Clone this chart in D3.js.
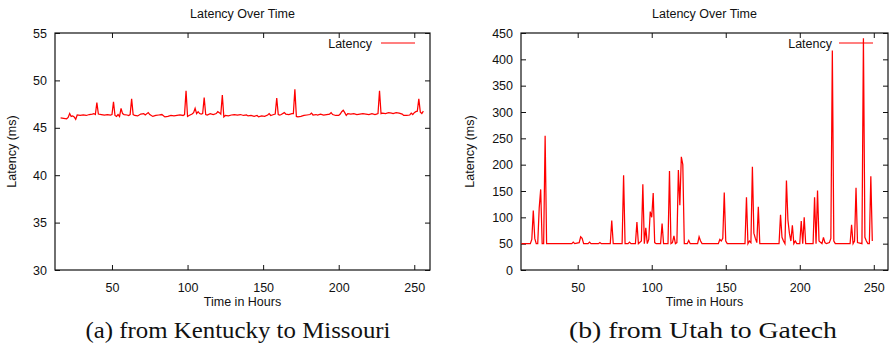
<!DOCTYPE html>
<html>
<head>
<meta charset="utf-8">
<script src="https://cdn.jsdelivr.net/npm/d3@7"></script>
<style>
  html, body { margin: 0; padding: 0; background: #fff; }
  svg { display: block; }
  text { font-family: "Liberation Sans", Arial, Helvetica, sans-serif; fill: #111; }
  .caption { font-family: "Liberation Serif", "Times New Roman", serif; }
</style>
</head>
<body>
<svg id="chart" width="890" height="347"></svg>
<script>
// ---- Data ----
const chartTitle = "Latency Over Time";
const xLabel = "Time in Hours";
const yLabel = "Latency (ms)";
const seriesName = "Latency";
const captions = ["(a) from Kentucky to Missouri", "(b) from Utah to Gatech"];

const xTicks = [50, 100, 150, 200, 250];
const yTicksA = [30, 35, 40, 45, 50, 55];
const yTicksB = [0, 50, 100, 150, 200, 250, 300, 350, 400, 450];

// (a) Kentucky -> Missouri
const hoursA = [16,18,20,21,22,23,24,25,26,27,29,31,33,35,37,38,39,40,41,43,45,47,49,50,51,52,53,54,55,56,57,58,60,61,62,63,64,65,67,69,71,72,74,75,77,79,81,83,85,87,89,91,93,95,97,98,99,100,101,103,104,105,106,107,108,109,110,111,112,113,115,117,119,120,121,122,123,124,125,127,129,131,133,135,137,139,140,142,144,146,147,149,151,153,154,155,157,158,159,160,161,162,164,165,167,169,170,171,172,173,175,177,179,181,182,183,185,186,188,190,192,194,195,196,198,200,201,202,203,204,205,206,208,210,212,214,216,218,220,222,224,225,226,227,228,229,231,233,235,236,238,240,242,243,245,247,248,249,250,251,252,253,254,255,256];
const latencyA = [46.05,46.0,45.95,46.1,46.5,46.2,46.25,46.15,45.9,46.35,46.3,46.35,46.3,46.4,46.45,46.5,46.4,47.65,46.45,46.4,46.35,46.4,46.35,46.4,47.75,46.3,46.2,46.4,46.2,47.05,46.5,46.4,46.35,46.3,46.4,48.05,46.4,46.3,46.25,46.45,46.5,46.35,46.6,46.4,46.2,46.3,46.35,46.4,46.15,46.2,46.3,46.25,46.3,46.35,46.3,46.4,48.9,46.2,46.3,46.45,46.6,47.05,46.5,46.7,46.5,46.45,46.5,48.2,46.4,46.35,46.5,46.4,46.5,46.7,46.6,46.45,48.45,46.15,46.3,46.25,46.35,46.4,46.35,46.4,46.3,46.35,46.25,46.3,46.2,46.3,46.15,46.25,46.2,46.35,46.5,46.3,46.4,46.45,48.15,46.4,46.35,46.4,46.6,46.45,46.4,46.5,46.5,49.05,46.2,46.15,46.2,46.3,46.35,46.4,46.55,46.35,46.4,46.35,46.45,46.35,46.4,46.45,46.6,46.4,46.3,46.3,46.45,46.7,46.85,46.6,46.3,46.5,46.45,46.5,46.4,46.45,46.5,46.45,46.4,46.5,46.4,46.45,46.5,48.9,46.5,46.55,46.5,46.6,46.55,46.5,46.6,46.55,46.45,46.3,46.3,46.35,46.55,46.4,46.6,46.7,46.75,48.05,46.65,46.5,46.75];

// (b) Utah -> Gatech
const hoursB = [12,18,19,20,21,22,23,24,25,26,27,28,29,46,47,48,51,52,53,54,57,58,59,64,65,66,72,73,74,80,81,82,84,85,86,89,90,91,93,94,95,96,97,98,99,100,101,102,103,106,107,108,111,112,113,114,115,116,117,118,119,120,121,122,124,125,126,131,132,133,134,145,146,147,148,149,150,151,163,164,165,166,167,168,169,170,171,172,173,186,187,188,189,190,191,192,193,194,195,196,197,198,200,201,202,203,204,209,210,211,212,213,215,216,217,218,220,221,222,223,224,234,235,236,237,238,239,242,243,244,245,246,247,248,249];
const latencyB = [50,50,58,113,60,50,50,118,153,50,50,255,50,50,53,50,52,63,60,50,50,53,50,50,52,50,50,94,50,50,180,50,50,53,50,50,91,50,55,163,50,80,50,58,111,100,146,52,50,50,88,50,50,188,50,52,65,50,52,190,123,215,200,50,50,56,50,50,63,55,50,50,58,55,60,147,55,50,50,138,50,55,52,196,70,60,52,120,50,50,105,62,55,50,170,95,70,55,85,50,55,50,50,93,50,100,50,50,138,50,151,55,50,62,52,50,52,60,417,55,50,50,86,50,55,156,52,50,440,62,55,50,50,178,55];

// ---- Drawing ----
const svg = d3.select("#chart");

function drawPanel(cfg) {
  const { left, right, top, bottom, xDomain, yDomain, yTicks, hours, values, legendTextEnd, legendLineX0, legendLineX1, caption, captionX, captionWidth } = cfg;
  const x = d3.scaleLinear().domain(xDomain).range([left, right]);
  const y = d3.scaleLinear().domain(yDomain).range([bottom, top]);
  const g = svg.append("g");
  const tickLen = 5;

  const axB = g.append("g").attr("transform", `translate(0,${bottom})`)
    .call(d3.axisBottom(x).tickValues(xTicks).tickSizeInner(-tickLen).tickSizeOuter(0).tickPadding(13));
  const axT = g.append("g").attr("transform", `translate(0,${top})`)
    .call(d3.axisTop(x).tickValues(xTicks).tickSizeInner(-tickLen).tickSizeOuter(0).tickFormat(""));
  const axL = g.append("g").attr("transform", `translate(${left},0)`)
    .call(d3.axisLeft(y).tickValues(yTicks).tickSizeInner(-tickLen).tickSizeOuter(0).tickPadding(8));
  const axR = g.append("g").attr("transform", `translate(${right},0)`)
    .call(d3.axisRight(y).tickValues(yTicks).tickSizeInner(-tickLen).tickSizeOuter(0).tickFormat(""));
  [axB, axT, axL, axR].forEach(a => {
    a.select(".domain").remove();
    a.selectAll(".tick line").attr("stroke", "#111").attr("stroke-width", 1);
    a.selectAll(".tick text").attr("font-size", "12.5px").attr("font-family", "Liberation Sans, Arial, sans-serif").attr("fill", "#111");
  });

  g.append("rect").attr("x", left).attr("y", top)
    .attr("width", right - left).attr("height", bottom - top)
    .attr("fill", "none").attr("stroke", "#111").attr("stroke-width", 1.2);

  g.append("text").attr("x", legendTextEnd).attr("y", top + 14.5)
    .attr("text-anchor", "end").attr("font-size", "12.5px").text(seriesName);
  g.append("line").attr("x1", legendLineX0).attr("x2", legendLineX1)
    .attr("y1", top + 10).attr("y2", top + 10)
    .attr("stroke", "#ff0000").attr("stroke-width", 1.2);

  const data = hours.map((h, i) => [h, values[i]]);
  const line = d3.line().x(d => x(d[0])).y(d => y(d[1]));
  g.append("path").datum(data).attr("d", line)
    .attr("fill", "none").attr("stroke", "#ff0000").attr("stroke-width", 1.25)
    .attr("stroke-linejoin", "miter");

  const cx = (left + right) / 2;
  g.append("text").attr("x", cx).attr("y", 18).attr("text-anchor", "middle")
    .attr("font-size", "12.5px").text(chartTitle);
  g.append("text").attr("x", cx).attr("y", 306).attr("text-anchor", "middle")
    .attr("font-size", "12.5px").text(xLabel);
  g.append("text").attr("transform", `translate(${cfg.yLabelX},${(top + bottom) / 2}) rotate(-90)`)
    .attr("text-anchor", "middle").attr("dy", "0.35em").attr("font-size", "12.5px").text(yLabel);

  g.append("text").attr("class", "caption").attr("x", captionX - captionWidth / 2).attr("y", 338)
    .attr("text-anchor", "start").attr("font-size", "23px")
    .attr("textLength", captionWidth).attr("lengthAdjust", "spacingAndGlyphs")
    .text(caption);
}

drawPanel({
  left: 55, right: 430, top: 33, bottom: 270,
  xDomain: [12.3, 260.4], yDomain: [30, 55], yTicks: yTicksA,
  hours: hoursA, values: latencyA,
  legendTextEnd: 372, legendLineX0: 381, legendLineX1: 415,
  yLabelX: 12, caption: captions[0], captionX: 238, captionWidth: 305
});
drawPanel({
  left: 521, right: 888, top: 33, bottom: 270,
  xDomain: [11.7, 259.6], yDomain: [0, 450], yTicks: yTicksB,
  hours: hoursB, values: latencyB,
  legendTextEnd: 832, legendLineX0: 839, legendLineX1: 873,
  yLabelX: 470, caption: captions[1], captionX: 703, captionWidth: 268
});
</script>
</body>
</html>
